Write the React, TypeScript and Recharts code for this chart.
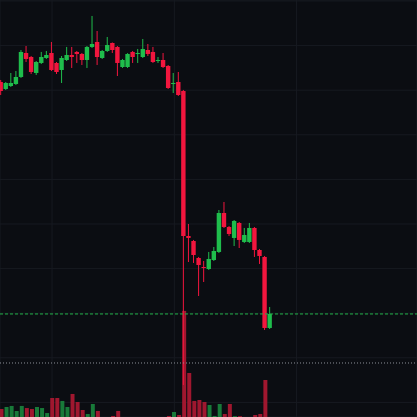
import React from "react";
import {
  ComposedChart,
  Bar,
  XAxis,
  YAxis,
  CartesianGrid,
  ReferenceLine,
  Cell,
} from "recharts";

const opens = [
  81.84, 80.27, 80.94, 81.39, 82.96, 88.34, 87.44, 83.86, 86.1, 87.22,
  88.34, 86.1, 84.53, 86.77, 87.89, 88.57, 88.12, 86.77, 89.69, 90.81,
  87.22, 88.79, 90.58, 89.69, 85.2, 85.2, 88.57, 88.12, 87.44, 89.01,
  88.57, 86.55, 86.77, 85.43, 81.39, 81.84, 79.82, 47.31, 46.19, 42.38,
  40.36, 39.91, 41.93, 43.73, 52.47, 49.33, 46.87, 50.23, 45.97, 45.97,
  49.11, 44.17, 42.61, 26.69,
];
const highs = [
  82.29, 81.84, 83.86, 84.3, 89.01, 89.91, 87.67, 86.55, 88.57, 88.79,
  90.81, 86.32, 87.67, 89.69, 89.69, 88.79, 88.34, 89.91, 96.64, 93.27,
  89.01, 91.93, 90.7, 89.91, 87.0, 88.3, 88.79, 89.24, 91.48, 90.36,
  89.69, 87.44, 88.34, 85.65, 83.86, 84.08, 80.05, 50.0, 46.42, 42.61,
  41.71, 43.73, 44.85, 53.14, 54.93, 49.56, 50.9, 50.45, 49.11, 50.23,
  49.33, 44.4, 42.83, 31.39,
];
const lows = [
  78.92, 80.05, 80.72, 81.17, 82.74, 86.32, 83.63, 83.41, 85.87, 87.0,
  84.3, 83.63, 81.61, 86.55, 84.98, 86.1, 85.65, 84.98, 89.46, 85.65,
  87.0, 88.57, 88.34, 83.18, 84.98, 84.98, 86.1, 86.1, 87.22, 87.67,
  86.1, 86.1, 84.98, 80.27, 79.37, 78.7, 13.91, 41.48, 41.26, 33.86,
  37.0, 39.69, 41.71, 43.5, 49.11, 47.31, 45.07, 44.62, 45.74, 45.74,
  42.61, 41.04, 26.24, 26.46,
];
const closes = [
  79.82, 81.61, 81.61, 82.96, 88.57, 87.0, 84.08, 86.32, 87.44, 87.89,
  84.53, 84.08, 87.22, 87.89, 87.44, 88.12, 86.77, 89.69, 90.36, 87.44,
  88.79, 90.13, 89.01, 86.1, 86.77, 88.12, 87.44, 88.34, 89.24, 88.12,
  86.32, 86.77, 85.2, 80.49, 81.61, 78.92, 47.31, 46.87, 43.05, 40.81,
  40.14, 42.16, 43.95, 52.47, 49.33, 47.76, 50.68, 46.42, 47.54, 49.11,
  44.17, 42.83, 26.69, 29.83,
];
const volumes = [
  77, 96, 106, 58, 106, 86, 77, 96, 86, 38,
  182, 182, 154, 96, 221, 144, 67, 29, 125, 58,
  0, 0, 10, 58, 0, 0, 0, 0, 0, 0,
  0, 0, 0, 10, 48, 19, 1018, 422, 154, 163,
  144, 115, 10, 125, 29, 125, 8, 8, 0, 0,
  19, 29, 355, 0,
];

const priceTicks = [10, 20, 30, 40, 50, 60, 70, 80, 90, 100];
const timeTicks = [10.05, 34.15, 58.25];
const lastPrice = 29.83;
const markLevel = 18.84;

const BG = "#0b0d12";
const GRID = "#171a21";
const UP = "#1fbd4c";
const DOWN = "#f2163e";
const VOL_UP = "#187a39";
const VOL_DOWN = "#a0172f";

const data = opens.map((o, i) => ({
  t: i,
  open: o,
  high: highs[i],
  low: lows[i],
  close: closes[i],
  volume: volumes[i],
  range: [lows[i], highs[i]],
}));

const Candle = (props: any) => {
  const { x, y, width, height, payload } = props;
  if (x == null || y == null) return null;
  const top = Math.min(y, y + height);
  const bottom = Math.max(y, y + height);
  const span = payload.high - payload.low || 1;
  const toY = (v: number) => top + ((payload.high - v) / span) * (bottom - top);
  const up = payload.close >= payload.open;
  const color = up ? UP : DOWN;
  const yo = toY(payload.open);
  const yc = toY(payload.close);
  let bTop = Math.min(yo, yc);
  let bH = Math.abs(yo - yc);
  if (bH < 1) {
    bTop -= (1 - bH) / 2;
    bH = 1;
  }
  const cx = x + width / 2;
  return (
    <g>
      <line x1={cx} x2={cx} y1={top} y2={bottom} stroke={color} strokeWidth={1} />
      <rect x={x} y={bTop} width={width} height={bH} fill={color} />
    </g>
  );
};

export default function App() {
  return (
    <div
      style={{
        position: "absolute",
        left: 0,
        top: 0,
        width: 417,
        height: 417,
        background: BG,
        overflow: "hidden",
      }}
    >
      <ComposedChart
        width={417}
        height={417}
        data={data}
        margin={{ top: 0, right: 0, bottom: 0, left: 0 }}
      >
        <XAxis
          dataKey="t"
          type="number"
          domain={[-0.2, 81.97]}
          ticks={timeTicks}
          allowDataOverflow
          hide
        />
        <XAxis
          xAxisId="v"
          dataKey="t"
          type="number"
          domain={[-0.2, 81.97]}
          allowDataOverflow
          hide
        />
        <YAxis
          yAxisId="price"
          type="number"
          domain={[6.73, 100.22]}
          ticks={priceTicks}
          allowDataOverflow
          hide
        />
        <YAxis
          yAxisId="vol"
          type="number"
          domain={[0, 4000]}
          allowDataOverflow
          hide
        />
        <CartesianGrid yAxisId="price" stroke={GRID} strokeWidth={1} />
        <ReferenceLine
          yAxisId="price"
          y={markLevel}
          stroke="#8d9199"
          strokeDasharray="1 2"
          strokeWidth={1}
        />
        <Bar
          xAxisId="v"
          yAxisId="vol"
          dataKey="volume"
          barSize={4}
          isAnimationActive={false}
        >
          {data.map((d, i) => (
            <Cell key={i} fill={d.close >= d.open ? VOL_UP : VOL_DOWN} />
          ))}
        </Bar>
        <Bar
          yAxisId="price"
          dataKey="range"
          barSize={4.4}
          shape={Candle}
          isAnimationActive={false}
        />
        <ReferenceLine
          yAxisId="price"
          y={lastPrice}
          stroke="#22b24a"
          strokeDasharray="3 2"
          strokeWidth={1}
        />
      </ComposedChart>
    </div>
  );
}
